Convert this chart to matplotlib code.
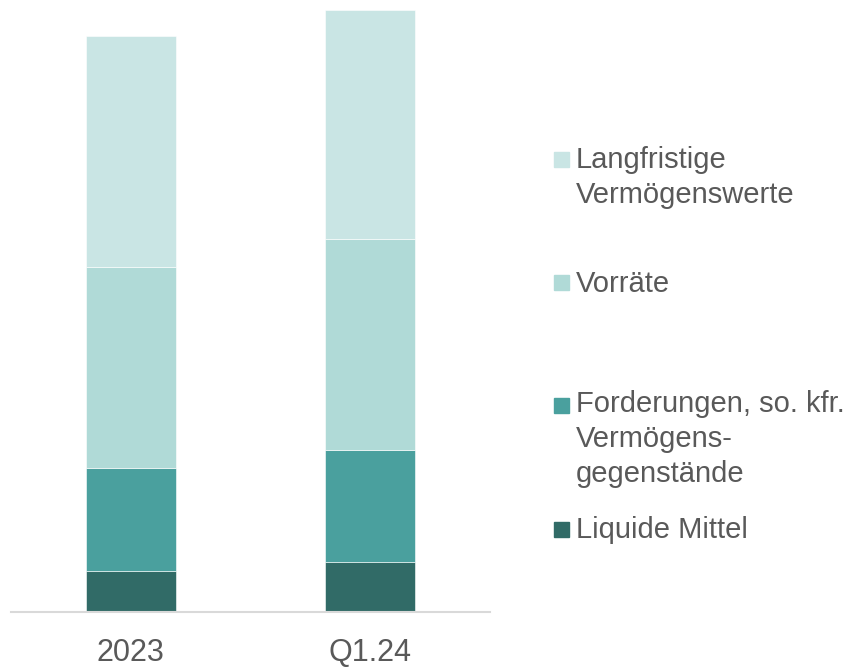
import matplotlib.pyplot as plt
from matplotlib.patches import Rectangle

plt.rcParams["font.family"] = ["Liberation Sans", "DejaVu Sans"]

categories = ["2023", "Q1.24"]
liquide = [41, 50]
forderungen = [103, 112]
vorraete = [201, 211]
langfristig = [231, 229]

series = [
    ("Liquide Mittel", liquide, "#316B67"),
    ("Forderungen, so. kfr.\nVermögens-\ngegenstände", forderungen, "#4AA09E"),
    ("Vorräte", vorraete, "#B0DAD7"),
    ("Langfristige\nVermögenswerte", langfristig, "#C9E5E4"),
]

W, H = 851, 667
fig = plt.figure(figsize=(W / 100, H / 100), dpi=100)
ax = fig.add_axes([11 / W, (H - 612) / H, (490 - 11) / W, (612 - 10) / H])

x = list(range(len(categories)))
bottom = [0, 0]
for name, vals, col in series:
    ax.bar(x, vals, width=0.375, bottom=bottom, color=col,
           edgecolor="white", linewidth=0.4)
    bottom = [b + v for b, v in zip(bottom, vals)]

ax.set_xlim(-0.5, 1.5)
ax.set_ylim(0, 602)
for s in ["top", "right", "left"]:
    ax.spines[s].set_visible(False)
ax.spines["bottom"].set_color("#D9D9D9")
ax.spines["bottom"].set_linewidth(1.5)
ax.set_yticks([])
ax.set_xticks(x)
ax.set_xticklabels(categories, fontsize=22, color="#595959")
ax.tick_params(axis="x", length=0, pad=19)

# legend drawn by hand (Office style spacing)
grey = "#595959"
entries = [
    ("#C9E5E4", 152, ["Langfristige", "Vermögenswerte"], 168),
    ("#B0DAD7", 275, ["Vorräte"], 292),
    ("#4AA09E", 398, ["Forderungen, so. kfr.", "Vermögens-", "gegenstände"], 412),
    ("#316B67", 522, ["Liquide Mittel"], 538),
]
for col, sq_top, lines, base in entries:
    fig.patches.append(Rectangle((554 / W, 1 - (sq_top + 15) / H), 15 / W, 15 / H,
                                 transform=fig.transFigure, color=col))
    for i, t in enumerate(lines):
        fig.text(576 / W, 1 - (base + 35 * i) / H, t, fontsize=21,
                 color=grey, va="baseline", ha="left")

fig.savefig("out.png", dpi=100)
